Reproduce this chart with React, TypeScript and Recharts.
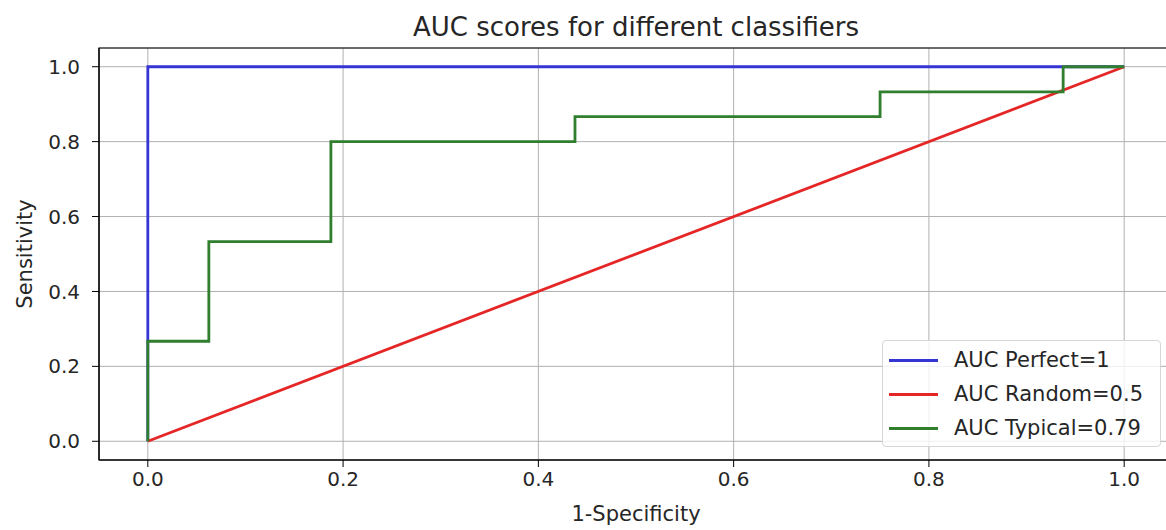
import { LineChart, Line, XAxis, YAxis, CartesianGrid, ReferenceArea, Label } from 'recharts';

// ROC points
const perfectFpr = [0, 0, 1];
const perfectTpr = [0, 1, 1];

const randomFpr = [0, 1];
const randomTpr = [0, 1];

const typicalFpr = [0, 0, 0.0625, 0.0625, 0.1875, 0.1875, 0.4375, 0.4375, 0.75, 0.75, 0.9375, 0.9375, 1];
const typicalTpr = [0, 0.267, 0.267, 0.533, 0.533, 0.8, 0.8, 0.867, 0.867, 0.933, 0.933, 1, 1];

const axisTicks = [0, 0.2, 0.4, 0.6, 0.8, 1.0];

const seriesNames = ['AUC Perfect=1', 'AUC Random=0.5', 'AUC Typical=0.79'];
const seriesColors = ['#3535d6', '#e52626', '#2f7f2f'];

const toPoints = (xs: number[], ys: number[]) => xs.map((x, i) => ({ x, y: ys[i] }));

const perfectData = toPoints(perfectFpr, perfectTpr);
const randomData = toPoints(randomFpr, randomTpr);
const typicalData = toPoints(typicalFpr, typicalTpr);

const FONT = '"DejaVu Sans", sans-serif';
const tickStyle = { fontSize: 20, fill: '#262626', fontFamily: FONT };

function LegendBox() {
  return (
    <div
      style={{
        position: 'absolute',
        left: 882,
        top: 340,
        width: 279,
        height: 107,
        boxSizing: 'border-box',
        border: '1px solid #d6d6d6',
        borderRadius: 4,
        background: 'rgba(255,255,255,0.8)',
        fontFamily: FONT,
        fontSize: 21,
        color: '#262626',
        paddingTop: 2,
      }}
    >
      {seriesNames.map((name, i) => (
        <div key={name} style={{ display: 'flex', alignItems: 'center', height: 34 }}>
          <div style={{ width: 49, height: 3, background: seriesColors[i], marginLeft: 6, marginRight: 16 }} />
          <span style={{ whiteSpace: 'nowrap' }}>{name}</span>
        </div>
      ))}
    </div>
  );
}

export default function App() {
  return (
    <div style={{ position: 'absolute', left: 0, top: 0, width: 1166, height: 530, overflow: 'hidden', background: '#fff' }}>
      <div
        style={{
          position: 'absolute',
          left: 0,
          top: 12,
          width: 1272,
          textAlign: 'center',
          fontFamily: FONT,
          fontSize: 26,
          color: '#262626',
          lineHeight: '30px',
        }}
      >
        AUC scores for different classifiers
      </div>
      <LineChart width={1200} height={530} margin={{ top: 48, right: 27, bottom: 40, left: 39 }}>
        <CartesianGrid stroke="#b0b0b0" strokeWidth={1} />
        <XAxis
          type="number"
          dataKey="x"
          domain={[-0.05, 1.05]}
          ticks={axisTicks}
          tickFormatter={(v: number) => v.toFixed(1)}
          allowDataOverflow
          height={30}
          tickSize={7}
          tickMargin={5}
          tick={tickStyle}
          stroke="#000"
        >
          <Label value="1-Specificity" position="bottom" offset={16} style={{ fontSize: 21, fill: '#262626', fontFamily: FONT }} />
        </XAxis>
        <YAxis
          type="number"
          dataKey="y"
          domain={[-0.05, 1.05]}
          ticks={axisTicks}
          tickFormatter={(v: number) => v.toFixed(1)}
          allowDataOverflow
          width={60}
          tickSize={7}
          tickMargin={12}
          tick={tickStyle}
          stroke="#000"
        >
          <Label
            value="Sensitivity"
            angle={-90}
            position="left"
            offset={0}
            dx={-14}
            style={{ fontSize: 21, fill: '#262626', fontFamily: FONT, textAnchor: 'middle' }}
          />
        </YAxis>
        <ReferenceArea x1={-0.05} x2={1.05} y1={-0.05} y2={1.05} stroke="#000" strokeWidth={1.2} fill="none" fillOpacity={0} />
        <Line data={perfectData} dataKey="y" type="linear" stroke={seriesColors[0]} strokeWidth={2.8} dot={false} isAnimationActive={false} />
        <Line data={randomData} dataKey="y" type="linear" stroke={seriesColors[1]} strokeWidth={2.8} dot={false} isAnimationActive={false} />
        <Line data={typicalData} dataKey="y" type="linear" stroke={seriesColors[2]} strokeWidth={2.8} dot={false} isAnimationActive={false} />
      </LineChart>
      <LegendBox />
    </div>
  );
}
